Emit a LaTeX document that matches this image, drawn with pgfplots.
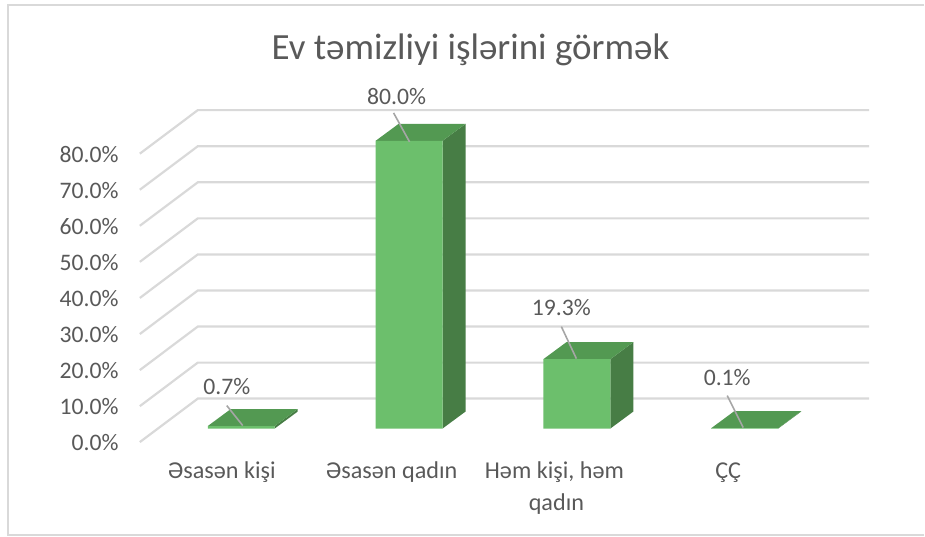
\documentclass[border=0pt]{standalone}
\usepackage{pgfplots}
\pgfplotsset{compat=1.18}
\usepackage{fontspec}
\setmainfont{Carlito}
\definecolor{txt}{HTML}{595959}
\definecolor{gridc}{HTML}{D9D9D9}
\definecolor{frontc}{HTML}{6CBF6C}
\definecolor{topc}{HTML}{539952}
\definecolor{sidec}{HTML}{477D45}
\definecolor{leadc}{HTML}{A6A6A6}
\newcommand{\lbl}{\fontsize{11.85pt}{14pt}\selectfont}
\newcommand{\cat}{\fontsize{12.1pt}{14.5pt}\selectfont}
\begin{document}
\begin{tikzpicture}
\begin{axis}[
  at={(0,0)}, anchor=north west,
  x=84pt, y=1.8pt,
  xmin=-1.4375, xmax=4.06845, ymin=-30, ymax=119.1667,
  hide axis, clip=false,
]
% back wall and side gridlines
\addplot[gridc, line width=1.1pt] coordinates {(-0.6042,-3.77) (-0.2589,8.33) (3.741,8.33)};
\addplot[gridc, line width=1.1pt] coordinates {(-0.6042,6.23) (-0.2589,18.33) (3.741,18.33)};
\addplot[gridc, line width=1.1pt] coordinates {(-0.6042,16.26) (-0.2589,28.36) (3.741,28.36)};
\addplot[gridc, line width=1.1pt] coordinates {(-0.6042,26.29) (-0.2589,38.39) (3.741,38.39)};
\addplot[gridc, line width=1.1pt] coordinates {(-0.6042,36.32) (-0.2589,48.42) (3.741,48.42)};
\addplot[gridc, line width=1.1pt] coordinates {(-0.6042,46.35) (-0.2589,58.45) (3.741,58.45)};
\addplot[gridc, line width=1.1pt] coordinates {(-0.6042,56.38) (-0.2589,68.48) (3.741,68.48)};
\addplot[gridc, line width=1.1pt] coordinates {(-0.6042,66.41) (-0.2589,78.51) (3.741,78.51)};
\addplot[gridc, line width=1.1pt] coordinates {(-0.6042,76.44) (-0.2589,88.54) (3.741,88.54)};
% side faces
\addplot[fill=sidec, draw=none] coordinates {(0.1994,0) (0.1994,0.7) (0.3363,5.42) (0.3363,4.72)} -- cycle;
\addplot[fill=sidec, draw=none] coordinates {(1.1994,0) (1.1994,80) (1.3363,84.72) (1.3363,4.72)} -- cycle;
\addplot[fill=sidec, draw=none] coordinates {(2.1994,0) (2.1994,19.3) (2.3363,24.02) (2.3363,4.72)} -- cycle;
\addplot[fill=sidec, draw=none] coordinates {(3.1994,0) (3.1994,0.1) (3.3363,4.82) (3.3363,4.72)} -- cycle;
% top faces
\addplot[fill=topc, draw=none] coordinates {(-0.1994,0.7) (0.1994,0.7) (0.3363,5.42) (-0.0625,5.42)} -- cycle;
\addplot[fill=topc, draw=none] coordinates {(0.8006,80) (1.1994,80) (1.3363,84.72) (0.9375,84.72)} -- cycle;
\addplot[fill=topc, draw=none] coordinates {(1.8006,19.3) (2.1994,19.3) (2.3363,24.02) (1.9375,24.02)} -- cycle;
\addplot[fill=topc, draw=none] coordinates {(2.8006,0.1) (3.1994,0.1) (3.3363,4.82) (2.9375,4.82)} -- cycle;
% front faces
\addplot[ybar, bar width=33.5pt, fill=frontc, draw=none] coordinates {(0,0.7) (1,80) (2,19.3) (3,0.1)};
\end{axis}
\begin{scope}[x=0.5pt, y=-0.5pt]
\path (0,0) rectangle (925,537);
\draw[gridc, line width=1pt] (925,5) -- (8,5) -- (8,536) -- (925,536);
\node[text=txt, inner sep=0pt] at (471,50) {\fontsize{18.5pt}{22pt}\selectfont Ev təmizliyi işlərini görmək};
% y tick labels
\foreach \k/\t in {0/0.0,1/10.0,2/20.0,3/30.0,4/40.0,5/50.0,6/60.0,7/70.0,8/80.0}
  \node[anchor=east, text=txt, inner sep=0pt] at (119,{443-36.1*\k}) {\lbl\t\%};
% category labels
\node[text=txt, inner sep=0pt] at (222,473) {\cat Əsasən kişi};
\node[text=txt, inner sep=0pt] at (392,473) {\cat Əsasən qadın};
\node[text=txt, inner sep=0pt] at (555,473) {\cat Həm kişi, həm};
\node[text=txt, inner sep=0pt] at (557,505) {\cat qadın};
\node[text=txt, inner sep=0pt] at (729,473) {\cat ÇÇ};
% data labels with leader lines
\draw[leadc, line width=0.8pt] (227,406) -- (243,426);
\draw[leadc, line width=0.8pt] (394,113) -- (410,142);
\draw[leadc, line width=0.8pt] (562,327) -- (577,359);
\draw[leadc, line width=0.8pt] (728,396) -- (744,428);
\node[text=txt, inner sep=0pt] at (227,387) {\lbl 0.7\%};
\node[text=txt, inner sep=0pt] at (397,97) {\lbl 80.0\%};
\node[text=txt, inner sep=0pt] at (562,308) {\lbl 19.3\%};
\node[text=txt, inner sep=0pt] at (728,378) {\lbl 0.1\%};
\end{scope}
\end{tikzpicture}
\end{document}
